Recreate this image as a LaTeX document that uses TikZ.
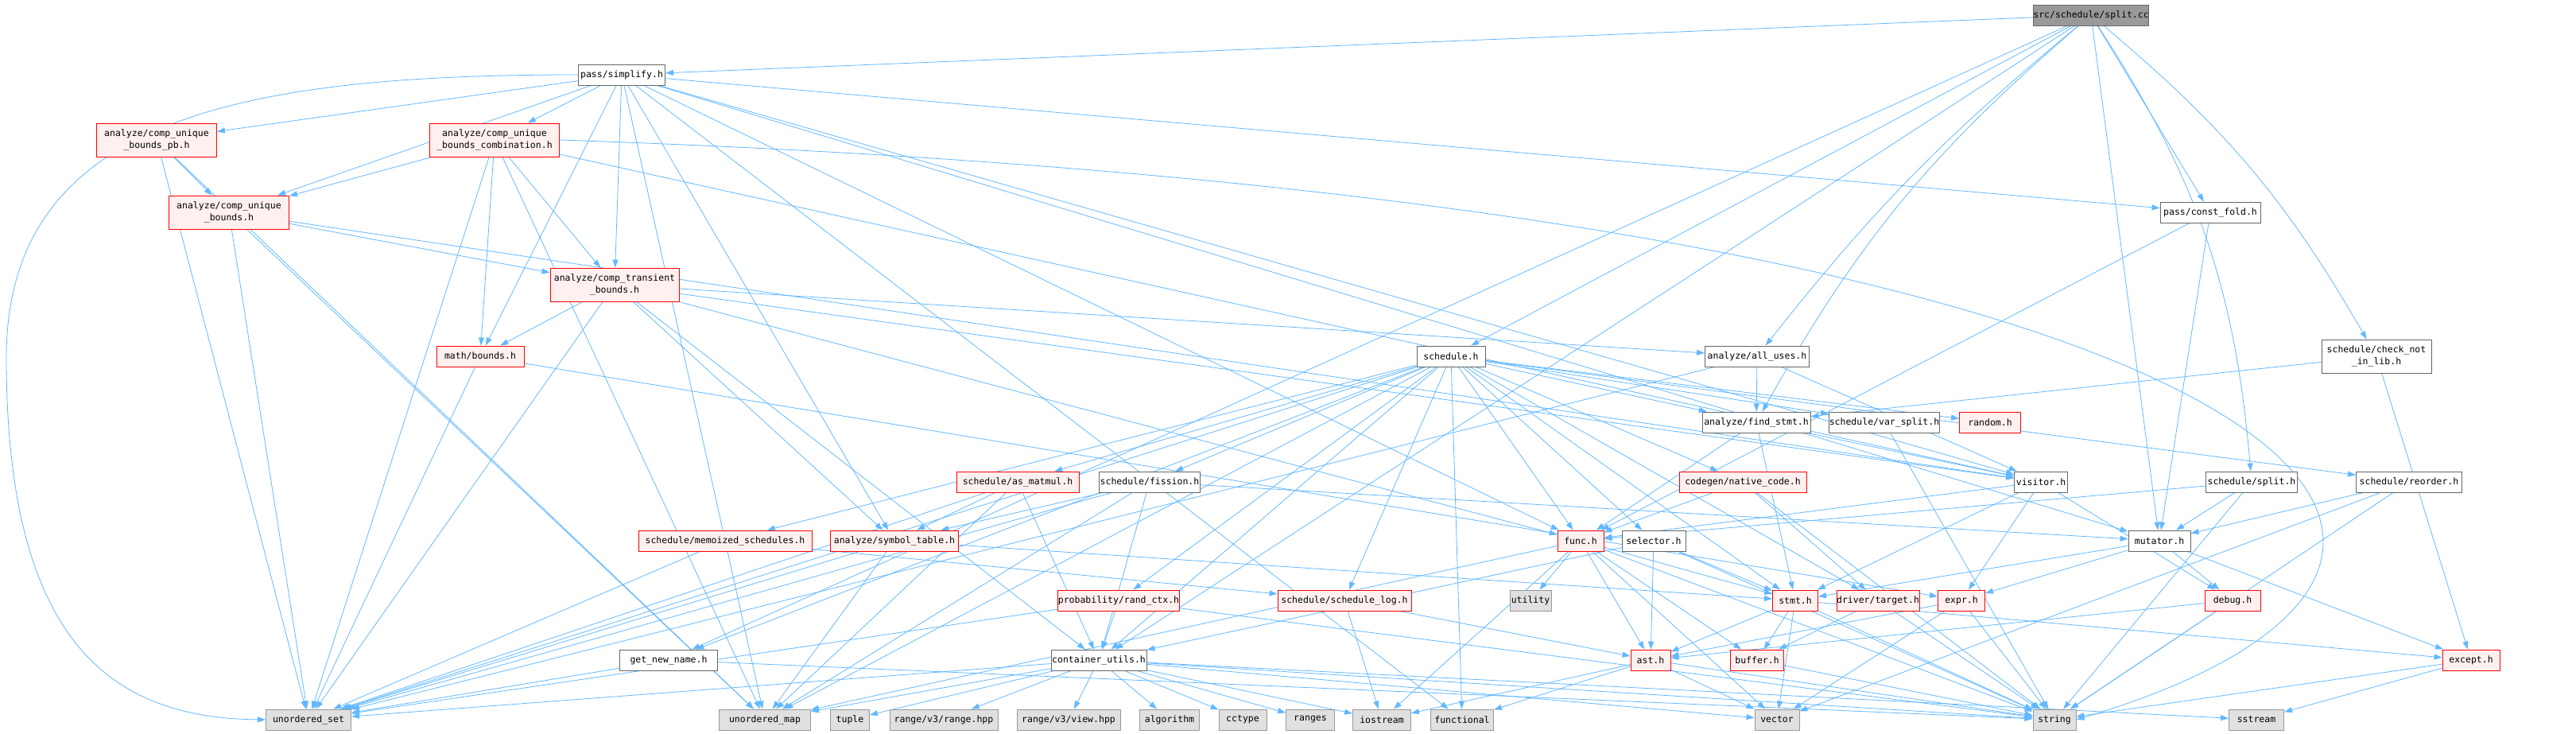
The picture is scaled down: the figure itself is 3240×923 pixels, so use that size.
\documentclass[tikz,border=0pt]{standalone}
\usepackage{fontspec}
\setmonofont{DejaVu Sans Mono}
\usetikzlibrary{arrows.meta}
\definecolor{incline}{HTML}{63B8FF}
\definecolor{hdrline}{HTML}{666666}
\definecolor{truncfill}{HTML}{FFF0F0}
\definecolor{sysline}{HTML}{999999}
\definecolor{sysfill}{HTML}{E0E0E0}
\definecolor{rootfill}{HTML}{999999}
\pgfdeclarelayer{edges}
\pgfsetlayers{edges,main}

\begin{document}
\begin{tikzpicture}[
  x=1pt, y=-1pt,
  box/.style={draw, line width=0.9pt, font=\ttfamily\fontsize{11.5}{15.5}\selectfont, inner sep=0pt, minimum height=26pt, align=center},
  hdr/.style={box, draw=hdrline, fill=white},
  trunc/.style={box, draw=red, fill=truncfill},
  sys/.style={box, draw=sysline, fill=sysfill},
  root/.style={box, draw=hdrline, fill=rootfill},
  two/.style={minimum height=42pt},
  inc/.style={-{Triangle[length=10pt, width=7pt]}, draw=incline, line width=0.8pt}
]
\useasboundingbox (0,0) rectangle (3240,923);

\node[root, minimum width=141pt] (split) at (2630,19) {src/schedule/split.cc};
\node[hdr, minimum width=109pt] (simplify) at (782,94) {pass/simplify.h};
\node[trunc, two, minimum width=151pt] (cubpb) at (197,176) {analyze/comp\_unique\\\_bounds\_pb.h};
\node[trunc, two, minimum width=163pt] (cubcomb) at (622,176) {analyze/comp\_unique\\\_bounds\_combination.h};
\node[trunc, two, minimum width=151pt] (cub) at (288,267) {analyze/comp\_unique\\\_bounds.h};
\node[hdr, minimum width=126pt] (constfold) at (2780,267) {pass/const\_fold.h};
\node[trunc, two, minimum width=162pt] (ctb) at (773,358) {analyze/comp\_transient\\\_bounds.h};
\node[trunc, minimum width=110pt] (mbounds) at (604,448) {math/bounds.h};
\node[hdr, minimum width=86pt] (sched) at (1825,448) {schedule.h};
\node[hdr, minimum width=131pt] (allUses) at (2210,448) {analyze/all\_uses.h};
\node[hdr, two, minimum width=138pt] (cnil) at (2989,448) {schedule/check\_not\\\_in\_lib.h};
\node[hdr, minimum width=136pt] (findStmt) at (2209,531) {analyze/find\_stmt.h};
\node[hdr, minimum width=139pt] (varSplit) at (2370,531) {schedule/var\_split.h};
\node[trunc, minimum width=77pt] (random) at (2503,531) {random.h};
\node[trunc, minimum width=154pt] (asMatmul) at (1280,606) {schedule/as\_matmul.h};
\node[hdr, minimum width=127pt] (fission) at (1446,606) {schedule/fission.h};
\node[trunc, minimum width=160pt] (nativeCode) at (2192,606) {codegen/native\_code.h};
\node[hdr, minimum width=67pt] (visitor) at (2567,606) {visitor.h};
\node[hdr, minimum width=115pt] (ssplit) at (2832,606) {schedule/split.h};
\node[hdr, minimum width=133pt] (reorder) at (3030,606) {schedule/reorder.h};
\node[trunc, minimum width=218pt] (memo) at (912,680) {schedule/memoized\_schedules.h};
\node[trunc, minimum width=161pt] (symtab) at (1125,680) {analyze/symbol\_table.h};
\node[trunc, minimum width=58pt] (func) at (1988,680) {func.h};
\node[hdr, minimum width=80pt] (selector) at (2080,680) {selector.h};
\node[hdr, minimum width=78pt] (mutator) at (2716,680) {mutator.h};
\node[trunc, minimum width=148pt] (randCtx) at (1407,755) {probability/rand\_ctx.h};
\node[trunc, minimum width=168pt] (schedLog) at (1691,755) {schedule/schedule\_log.h};
\node[sys, minimum width=52pt] (utility) at (1925,755) {utility};
\node[trunc, minimum width=57pt] (stmt) at (2258,755) {stmt.h};
\node[trunc, minimum width=103pt] (target) at (2362,755) {driver/target.h};
\node[trunc, minimum width=59pt] (expr) at (2467,755) {expr.h};
\node[trunc, minimum width=70pt] (debug) at (2808,755) {debug.h};
\node[hdr, minimum width=123pt] (getNewName) at (841,830) {get\_new\_name.h};
\node[hdr, minimum width=120pt] (contUtils) at (1382,830) {container\_utils.h};
\node[trunc, minimum width=50pt] (ast) at (2076,830) {ast.h};
\node[trunc, minimum width=67pt] (buffer) at (2210,830) {buffer.h};
\node[trunc, minimum width=72pt] (except) at (3108,830) {except.h};
\node[sys, minimum width=107pt] (uset) at (388,905) {unordered\_set};
\node[sys, minimum width=115pt] (umap) at (962,905) {unordered\_map};
\node[sys, minimum width=49pt] (tuple) at (1069,905) {tuple};
\node[sys, minimum width=136pt] (rangeHpp) at (1187,905) {range/v3/range.hpp};
\node[sys, minimum width=130pt] (viewHpp) at (1344,905) {range/v3/view.hpp};
\node[sys, minimum width=75pt] (algorithm) at (1471,905) {algorithm};
\node[sys, minimum width=60pt] (cctype) at (1563,905) {cctype};
\node[sys, minimum width=61pt] (ranges) at (1648,905) {ranges};
\node[sys, minimum width=73pt] (iostream) at (1738,905) {iostream};
\node[sys, minimum width=79pt] (functional) at (1839,905) {functional};
\node[sys, minimum width=56pt] (vector) at (2235,905) {vector};
\node[sys, minimum width=54pt] (string) at (2584,905) {string};
\node[sys, minimum width=69pt] (sstream) at (2838,905) {sstream};

\begin{pgfonlayer}{edges}
% src/schedule/split.cc
\draw[inc] (split) -- (simplify);
\draw[inc] (split) -- (constfold);
\draw[inc] (split) -- (sched);
\draw[inc] (split) to[bend right=6] (allUses);
\draw[inc] (split) to[bend right=10] (findStmt);
\draw[inc] (split) to[bend left=10] (cnil);
\draw[inc] (split) to[bend left=14] (ssplit);
\draw[inc] (split) -- (contUtils);
\draw[inc] (split) -- (getNewName);
\draw[inc] (split) -- (mutator);
% pass/simplify.h
\draw[inc] (simplify.west) .. controls (300,94) and (8,150) .. (8,450) .. controls (8,820) and (150,903) .. (uset.west);
\draw[inc] (simplify) -- (umap);
\draw[inc] (simplify) -- (functional);
\draw[inc] (simplify) -- (cubpb);
\draw[inc] (simplify) -- (cub);
\draw[inc] (simplify) -- (cubcomb);
\draw[inc] (simplify) -- (ctb);
\draw[inc] (simplify) -- (mbounds);
\draw[inc] (simplify) -- (symtab);
\draw[inc] (simplify) -- (func);
\draw[inc] (simplify) -- (mutator);
\draw[inc] (simplify) -- (visitor);
\draw[inc] (simplify) -- (constfold);
% analyze
\draw[inc] (cubpb) -- (cub);
\draw[inc] (cubpb) -- (uset);
\draw[inc] (cubpb) -- (umap);
\draw[inc] (cubcomb) -- (cub);
\draw[inc] (cubcomb) -- (ctb);
\draw[inc] (cubcomb) -- (mbounds);
\draw[inc] (cubcomb) -- (uset);
\draw[inc] (cubcomb) -- (umap);
\draw[inc] (cubcomb) -- (visitor);
\draw[inc] (cubcomb.east) .. controls (2900,250) and (3300,700) .. (string.east);
\draw[inc] (cub) -- (ctb);
\draw[inc] (cub) -- (visitor);
\draw[inc] (cub) -- (uset);
\draw[inc] (cub) -- (umap);
\draw[inc] (ctb) -- (mbounds);
\draw[inc] (ctb) -- (symtab);
\draw[inc] (ctb) -- (uset);
\draw[inc] (ctb) -- (contUtils);
\draw[inc] (ctb) -- (allUses);
\draw[inc] (ctb) -- (visitor);
\draw[inc] (ctb) -- (func);
\draw[inc] (mbounds) -- (uset);
\draw[inc] (mbounds) -- (expr);
% schedule.h
\draw[inc] (sched) -- (asMatmul);
\draw[inc] (sched) -- (fission);
\draw[inc] (sched) -- (memo);
\draw[inc] (sched) -- (randCtx);
\draw[inc] (sched) -- (schedLog);
\draw[inc] (sched) -- (func);
\draw[inc] (sched) -- (selector);
\draw[inc] (sched) -- (findStmt);
\draw[inc] (sched) -- (varSplit);
\draw[inc] (sched) -- (random);
\draw[inc] (sched) -- (nativeCode);
\draw[inc] (sched) -- (target);
\draw[inc] (sched) -- (stmt);
\draw[inc] (sched) -- (reorder);
\draw[inc] (sched) -- (functional);
\draw[inc] (sched) -- (umap);
\draw[inc] (sched) -- (uset);
\draw[inc] (sched) -- (contUtils);
\draw[inc] (sched) -- (getNewName);
% middle rows
\draw[inc] (allUses) -- (findStmt);
\draw[inc] (allUses) -- (uset);
\draw[inc] (allUses) -- (visitor);
\draw[inc] (findStmt) -- (visitor);
\draw[inc] (findStmt) -- (stmt);
\draw[inc] (findStmt) -- (func);
\draw[inc] (cnil) -- (findStmt);
\draw[inc] (cnil) -- (except);
\draw[inc] (constfold) -- (func);
\draw[inc] (constfold) -- (mutator);
\draw[inc] (varSplit) -- (string);
\draw[inc] (asMatmul) -- (symtab);
\draw[inc] (asMatmul) -- (contUtils);
\draw[inc] (asMatmul) -- (uset);
\draw[inc] (asMatmul) -- (umap);
\draw[inc] (fission) -- (symtab);
\draw[inc] (fission) -- (contUtils);
\draw[inc] (fission) -- (uset);
\draw[inc] (fission) -- (umap);
\draw[inc] (fission) -- (mutator);
\draw[inc] (nativeCode) -- (func);
\draw[inc] (nativeCode) -- (target);
\draw[inc] (nativeCode) -- (string);
\draw[inc] (visitor) -- (stmt);
\draw[inc] (visitor) -- (expr);
\draw[inc] (visitor) -- (debug);
\draw[inc] (visitor) -- (func);
\draw[inc] (ssplit) -- (mutator);
\draw[inc] (ssplit) -- (string);
\draw[inc] (ssplit) -- (func);
\draw[inc] (reorder) -- (mutator);
\draw[inc] (reorder) -- (string);
\draw[inc] (reorder) -- (vector);
\draw[inc] (memo) -- (schedLog);
\draw[inc] (memo) -- (uset);
\draw[inc] (symtab) -- (stmt);
\draw[inc] (symtab) -- (uset);
\draw[inc] (symtab) -- (umap);
\draw[inc] (func) -- (utility);
\draw[inc] (func) -- (iostream);
\draw[inc] (func) -- (ast);
\draw[inc] (func) -- (buffer);
\draw[inc] (func) -- (vector);
\draw[inc] (func) -- (stmt);
\draw[inc] (func) -- (string);
\draw[inc] (func) -- (umap);
\draw[inc] (selector) -- (ast);
\draw[inc] (selector) -- (contUtils);
\draw[inc] (selector) -- (stmt);
\draw[inc] (selector) -- (string);
\draw[inc] (mutator) -- (stmt);
\draw[inc] (mutator) -- (expr);
\draw[inc] (mutator) -- (debug);
\draw[inc] (mutator) -- (except);
\draw[inc] (randCtx) -- (contUtils);
\draw[inc] (randCtx) -- (uset);
\draw[inc] (randCtx) -- (string);
\draw[inc] (schedLog) -- (iostream);
\draw[inc] (schedLog) -- (ast);
\draw[inc] (stmt) -- (ast);
\draw[inc] (stmt) -- (buffer);
\draw[inc] (stmt) -- (vector);
\draw[inc] (stmt) -- (string);
\draw[inc] (stmt) -- (except);
\draw[inc] (target) -- (buffer);
\draw[inc] (target) -- (string);
\draw[inc] (expr) -- (ast);
\draw[inc] (expr) -- (vector);
\draw[inc] (expr) -- (string);
\draw[inc] (debug) -- (ast);
\draw[inc] (debug) -- (string);
% lower rows
\draw[inc] (getNewName) -- (uset);
\draw[inc] (getNewName) -- (string);
\draw[inc] (contUtils) -- (uset);
\draw[inc] (contUtils) -- (umap);
\draw[inc] (contUtils) -- (tuple);
\draw[inc] (contUtils) -- (rangeHpp);
\draw[inc] (contUtils) -- (viewHpp);
\draw[inc] (contUtils) -- (algorithm);
\draw[inc] (contUtils) -- (cctype);
\draw[inc] (contUtils) -- (ranges);
\draw[inc] (contUtils) -- (iostream);
\draw[inc] (contUtils) -- (vector);
\draw[inc] (contUtils) -- (string);
\draw[inc] (contUtils) -- (sstream);
\draw[inc] (ast) -- (functional);
\draw[inc] (ast) -- (iostream);
\draw[inc] (ast) -- (string);
\draw[inc] (ast) -- (vector);
\draw[inc] (buffer) -- (string);
\draw[inc] (except) -- (string);
\draw[inc] (except) -- (sstream);
\end{pgfonlayer}
\end{tikzpicture}
\end{document}
